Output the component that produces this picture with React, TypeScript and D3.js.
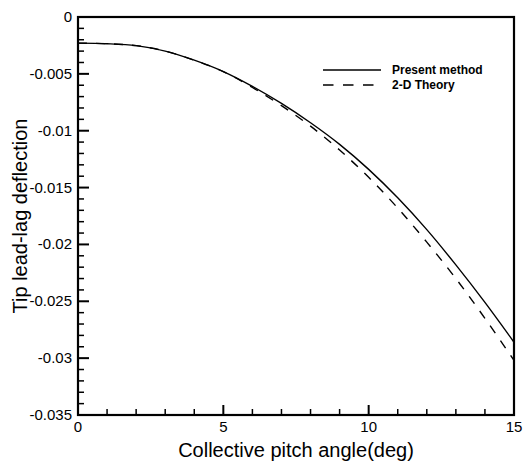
import React from "react";
import * as d3 from "d3";

const pitch = [0, 1, 2, 3, 4, 5, 6, 7, 8, 9, 10, 11, 12, 13, 14, 15];
const presentMethod = [-0.0023, -0.00235, -0.00252, -0.003, -0.0038, -0.0048, -0.0061, -0.0076, -0.0093, -0.0112, -0.0134, -0.0159, -0.0187, -0.0218, -0.0251, -0.0286];
const theory2D = [-0.0023, -0.00235, -0.00252, -0.003, -0.0038, -0.0048, -0.0062, -0.0078, -0.0096, -0.0117, -0.0141, -0.0168, -0.0198, -0.023, -0.0265, -0.0302];
const xTicks = [0, 5, 10, 15];
const yTicks = [0, -0.005, -0.01, -0.015, -0.02, -0.025, -0.03, -0.035];
const xLabel = "Collective pitch angle(deg)";
const yLabel = "Tip lead-lag deflection";
const legendNames = ["Present method", "2-D Theory"];

const W = 524, H = 467;
const L = 78, R = 514, T = 17, B = 415;

export default function App() {
  const x = d3.scaleLinear().domain([0, 15]).range([L, R]);
  const y = d3.scaleLinear().domain([0, -0.035]).range([T, B]);
  const line = d3.line<number>()
    .x((_, i) => x(pitch[i]))
    .y((d) => y(d))
    .curve(d3.curveCatmullRom.alpha(0.5));
  const xMinor = d3.range(0, 16, 1).filter((v) => !xTicks.includes(v));
  const yMinor = d3.range(0, 36, 1).filter((v) => v % 5 !== 0).map((v) => -v / 1000);
  const font = "'Liberation Sans', Arial, sans-serif";
  return (
    <svg width={W} height={H} style={{ position: "absolute", left: 0, top: 0, background: "#fff" }} fontFamily={font}>
      <rect x={0} y={0} width={W} height={H} fill="#fff" />
      {/* curves */}
      <path d={line(presentMethod) || ""} fill="none" stroke="#000" strokeWidth={1.4} />
      <path d={line(theory2D) || ""} fill="none" stroke="#000" strokeWidth={1.4} strokeDasharray="9,9" />
      {/* ticks */}
      {xTicks.map((v) => (
        <line key={"xt" + v} x1={x(v)} x2={x(v)} y1={B} y2={B - 10} stroke="#000" strokeWidth={2} />
      ))}
      {xMinor.map((v) => (
        <line key={"xm" + v} x1={x(v)} x2={x(v)} y1={B} y2={B - 6} stroke="#000" strokeWidth={1.5} />
      ))}
      {yTicks.map((v) => (
        <line key={"yt" + v} x1={L} x2={L + 11} y1={y(v)} y2={y(v)} stroke="#000" strokeWidth={2} />
      ))}
      {yMinor.map((v) => (
        <line key={"ym" + v} x1={L} x2={L + 6} y1={y(v)} y2={y(v)} stroke="#000" strokeWidth={1.5} />
      ))}
      {/* frame */}
      <rect x={L} y={T} width={R - L} height={B - T} fill="none" stroke="#000" strokeWidth={2.2} />
      {/* tick labels */}
      {xTicks.map((v) => (
        <text key={"xl" + v} x={x(v)} y={B + 17} fontSize={15} textAnchor="middle">{String(v)}</text>
      ))}
      {yTicks.map((v) => (
        <text key={"yl" + v} x={L - 6} y={y(v) + 5} fontSize={15} textAnchor="end">{v === 0 ? "0" : String(v)}</text>
      ))}
      {/* axis labels */}
      <text x={(L + R) / 2} y={457} fontSize={20} textAnchor="middle">{xLabel}</text>
      <text transform={`translate(27,${(T + B) / 2}) rotate(-90)`} fontSize={20} textAnchor="middle">{yLabel}</text>
      {/* legend */}
      <line x1={323} x2={381} y1={70} y2={70} stroke="#000" strokeWidth={1.4} />
      <line x1={323} x2={381} y1={85} y2={85} stroke="#000" strokeWidth={1.4} strokeDasharray="10.5,9.5" />
      <text x={392} y={74} fontSize={12} fontWeight="bold">{legendNames[0]}</text>
      <text x={392} y={89} fontSize={12} fontWeight="bold">{legendNames[1]}</text>
    </svg>
  );
}
